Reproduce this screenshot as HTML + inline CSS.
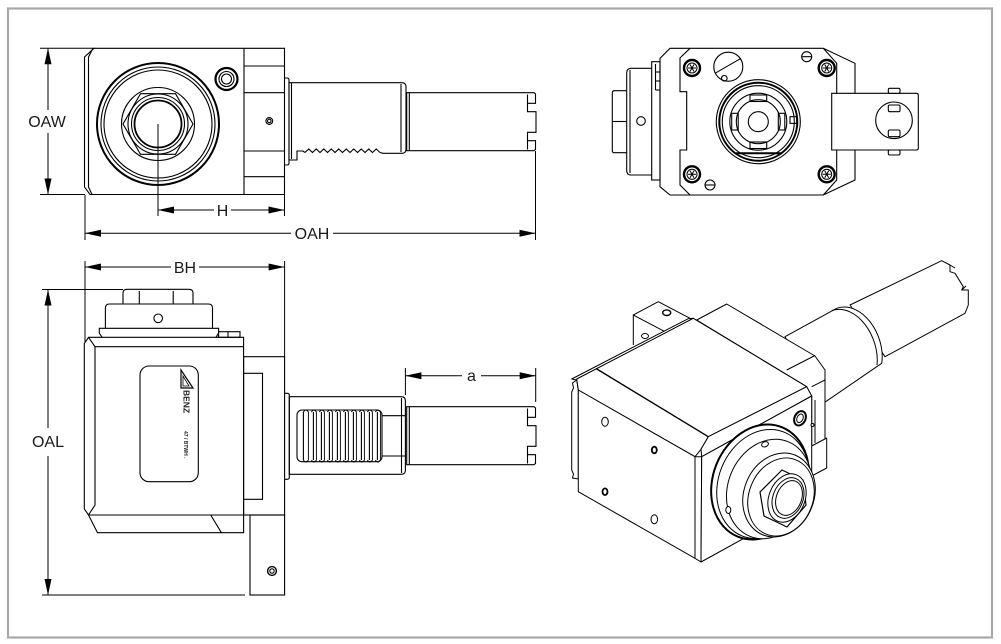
<!DOCTYPE html>
<html><head><meta charset="utf-8"><style>
html,body{margin:0;padding:0;background:#fff;}
svg{display:block;}
text{font-family:"Liberation Sans",sans-serif;font-size:16px;fill:#1a1a1a;}
</style></head><body>
<svg width="1001" height="644" viewBox="0 0 1001 644" xmlns="http://www.w3.org/2000/svg">
<rect x="0" y="0" width="1001" height="644" fill="#fff"/>
<rect x="8" y="8.5" width="984" height="629" fill="none" stroke="#a8a8a8" stroke-width="2.2"/>

<!-- ================= TOP-LEFT VIEW ================= -->
<g fill="none" stroke="#000" stroke-width="1.1">
  <path d="M94,48.3 H284.5 V194.5 H90 L84.5,187 V57 Z"/>
  <path d="M93,48.3 L88.5,57 V187 L92,194.5"/>
  <line x1="244" y1="48.3" x2="244" y2="194.5"/>
  <line x1="244" y1="66" x2="284.5" y2="66"/>
  <line x1="244" y1="92.7" x2="284.5" y2="92.7"/>
  <line x1="244" y1="151" x2="284.5" y2="151"/>
  <line x1="244" y1="176.7" x2="284.5" y2="176.7"/>
  <circle cx="269.3" cy="121" r="3.4"/>
  <circle cx="269.3" cy="121" r="1.8"/>
  <circle cx="226.5" cy="79" r="11" stroke-width="2.2"/>
  <circle cx="226.5" cy="79" r="7.5"/>
  <circle cx="226.5" cy="79" r="5"/>
  <!-- big circles -->
  <circle cx="158" cy="124" r="61" stroke-width="2"/>
  <circle cx="158" cy="124" r="57"/>
  <circle cx="158" cy="124" r="54"/>
  <circle cx="158" cy="124" r="36.5"/>
  <polygon points="193,124 175.5,93.7 140.5,93.7 123,124 140.5,154.3 175.5,154.3"/>
  <circle cx="158" cy="124" r="30"/>
  <circle cx="158" cy="124" r="26.5"/>
  <circle cx="158" cy="124" r="23.5" stroke-width="1.8"/>
  <line x1="158" y1="124" x2="158" y2="216" stroke-width="1"/>
  <!-- collar -->
  <path d="M284.5,78 H287 Q289,78 289,80 V163 Q289,165 287,165 H284.5"/>
  <!-- main shaft -->
  <path d="M289,160 V82.7 H402 Q406,82.7 406,87 V149 Q406,153.3 402,153.3 H383 L380,152.5"/>
  <polyline points="380,152.5 376.25,149 372.5,152.5 368.75,149 365,152.5 361.25,149 357.5,152.5 353.75,149 350,152.5 346.25,149 342.5,152.5 338.75,149 335,152.5 331.25,149 327.5,152.5 323.75,149 320,152.5 316.25,149 312.5,152.5 308.75,149 305,152.5"/>
  <path d="M305,152.5 L303,151 H297 V160 H289"/>
  <line x1="291.5" y1="83" x2="291.5" y2="159"/>
  <line x1="401" y1="84" x2="401" y2="152"/>
  <!-- small shaft -->
  <path d="M406.7,92.7 H534 L535.5,94 V103.3 H527.5 V111.7 H536 V132.3 H527.5 V140.7 H535.5 V149.5 L534,150.7 H406.7 Z"/>
  <line x1="409.3" y1="93" x2="409.3" y2="150.5"/>
  <line x1="527.5" y1="94.5" x2="527.5" y2="103.3"/>
  <line x1="527.5" y1="140.7" x2="527.5" y2="149.5"/>
</g>
<!-- top-left dims -->
<g stroke="#000" stroke-width="1" fill="none">
  <line x1="40" y1="48.3" x2="95" y2="48.3"/>
  <line x1="40" y1="194.5" x2="85" y2="194.5"/>
  <line x1="48" y1="48.3" x2="48" y2="110"/>
  <line x1="48" y1="133" x2="48" y2="194.5"/>
  <line x1="158" y1="210" x2="214" y2="210"/>
  <line x1="231" y1="210" x2="284.5" y2="210"/>
  <line x1="284.5" y1="195" x2="284.5" y2="216"/>
  <line x1="85" y1="195" x2="85" y2="240"/>
  <line x1="535.5" y1="151" x2="535.5" y2="240"/>
  <line x1="85" y1="233.3" x2="291" y2="233.3"/>
  <line x1="333" y1="233.3" x2="535.5" y2="233.3"/>
</g>
<g fill="#000">
  <polygon points="48,48.3 44.5,64.3 51.5,64.3"/>
  <polygon points="48,194.5 44.5,178.5 51.5,178.5"/>
  <polygon points="158,210 174,206.5 174,213.5"/>
  <polygon points="284.5,210 268.5,206.5 268.5,213.5"/>
  <polygon points="85,233.3 101,229.8 101,236.8"/>
  <polygon points="535.5,233.3 519.5,229.8 519.5,236.8"/>
</g>
<text x="47" y="127" text-anchor="middle">OAW</text>
<text x="222.5" y="216" text-anchor="middle">H</text>
<text x="312" y="239" text-anchor="middle">OAH</text>

<!-- ================= BOTTOM-LEFT VIEW ================= -->
<g fill="none" stroke="#000" stroke-width="1.1">
  <!-- nut -->
  <path d="M123,304 V293 Q123,289.3 127,289.3 H189 Q193,289.3 193,293 V304"/>
  <line x1="139.3" y1="291" x2="139.3" y2="304"/>
  <line x1="173.2" y1="291" x2="173.2" y2="304"/>
  <!-- collar -->
  <path d="M105.4,328.3 V308 Q105.4,304 109.4,304 H208.5 Q212.5,304 212.5,308 V328.3"/>
  <circle cx="158.2" cy="318.3" r="4.3"/>
  <path d="M102,337.3 L99.3,333 V328.3 H218.6 V333 L216,337.3"/>
  <rect x="218.6" y="331.7" width="21.4" height="5.6"/>
  <line x1="228" y1="331.7" x2="228" y2="337.3"/>
  <!-- body -->
  <path d="M88.5,337.3 H243.6 V515 H88.5 L84.3,509 V343.5 Z"/>
  <path d="M88.5,337.3 L95,346.7 H243.6 M95,346.7 V505 L88.5,515"/>
  <path d="M88.5,515 L97.5,532.7 H243.6 V515 M210.7,515 L221.4,532.7"/>
  <!-- label -->
  <rect x="140" y="366" width="58.3" height="115.7" rx="9"/>
  <polygon points="181,370 181,388 193,388" stroke-width="1.2"/>
  <polygon points="183,376 183,386 189,386" stroke-width="0.8"/>
  <!-- flange -->
  <rect x="243.6" y="356.7" width="41" height="158.3"/>
  <path d="M243.6,373.3 H262.5 V499.3 H243.6"/>
  <rect x="250" y="515" width="34.6" height="80"/>
  <circle cx="272" cy="571" r="4.4" stroke-width="1.4"/>
  <circle cx="272" cy="571" r="2.2"/>
  <!-- shaft -->
  <path d="M284.6,393.3 H287.3 Q289.3,393.3 289.3,395.3 V477.3 Q289.3,479.3 287.3,479.3 H284.6"/>
  <path d="M289.3,396.7 H401.4 Q405.4,396.7 405.4,400.7 V470.3 Q405.4,474.3 401.4,474.3 H289.3 Z"/>
  <line x1="401.5" y1="398" x2="401.5" y2="473"/>
  <rect x="297" y="410" width="85" height="51.7" rx="5"/>
  <path d="M303.4,412 V460 M313.4,412 V460 M321.4,412 V460 M329.4,412 V460 M337.4,412 V460 M345.4,412 V460 M353.4,412 V460 M361.4,412 V460 M369.4,412 V460 M377.4,412 V460"/>
  <path d="M303.4,412 Q305.9,408 308.4,412 V460 Q305.9,464 303.4,460 M311.4,412 Q313.9,408 316.4,412 V460 Q313.9,464 311.4,460 M319.4,412 Q321.9,408 324.4,412 V460 Q321.9,464 319.4,460 M327.4,412 Q329.9,408 332.4,412 V460 Q329.9,464 327.4,460 M335.4,412 Q337.9,408 340.4,412 V460 Q337.9,464 335.4,460 M343.4,412 Q345.9,408 348.4,412 V460 Q345.9,464 343.4,460 M351.4,412 Q353.9,408 356.4,412 V460 Q353.9,464 351.4,460 M359.4,412 Q361.9,408 364.4,412 V460 Q361.9,464 359.4,460 M367.4,412 Q369.9,408 372.4,412 V460 Q369.9,464 367.4,460 M375.4,412 Q377.9,408 380.4,412 V460 Q377.9,464 375.4,460" stroke-width="0.9"/>
  <line x1="382" y1="415.7" x2="405.4" y2="415.7"/>
  <line x1="382" y1="456" x2="405.4" y2="456"/>
  <path d="M406.7,406.7 H534 L535.5,408 V417.3 H527.5 V425.7 H536 V446.3 H527.5 V454.7 H535.5 V463.5 L534,464.7 H406.7 Z"/>
  <line x1="409.3" y1="407" x2="409.3" y2="464.5"/>
  <line x1="527.5" y1="408.5" x2="527.5" y2="417.3"/>
  <line x1="527.5" y1="454.7" x2="527.5" y2="463.5"/>
</g>
<text transform="translate(183.5,390) rotate(90)" style="font-size:8.5px;font-weight:bold;">BENZ</text>
<text transform="translate(184,431) rotate(90)" style="font-size:5px;font-weight:bold;">47 / BTWH .</text>
<!-- bottom-left dims -->
<g stroke="#000" stroke-width="1" fill="none">
  <line x1="85" y1="261" x2="85" y2="342"/>
  <line x1="284.6" y1="261" x2="284.6" y2="357"/>
  <line x1="85" y1="267" x2="171" y2="267"/>
  <line x1="199" y1="267" x2="284.6" y2="267"/>
  <line x1="42" y1="289.5" x2="123" y2="289.5"/>
  <line x1="42" y1="595" x2="245" y2="595"/>
  <line x1="48" y1="289.5" x2="48" y2="428"/>
  <line x1="48" y1="456" x2="48" y2="595"/>
  <line x1="405.4" y1="368" x2="405.4" y2="395"/>
  <line x1="535.7" y1="368" x2="535.7" y2="402"/>
  <line x1="405.4" y1="375.7" x2="462" y2="375.7"/>
  <line x1="481" y1="375.7" x2="535.7" y2="375.7"/>
</g>
<g fill="#000">
  <polygon points="85,267 101,263.5 101,270.5"/>
  <polygon points="284.6,267 268.6,263.5 268.6,270.5"/>
  <polygon points="48,289.5 44.5,305.5 51.5,305.5"/>
  <polygon points="48,595 44.5,579 51.5,579"/>
  <polygon points="405.4,375.7 421.4,372.2 421.4,379.2"/>
  <polygon points="535.7,375.7 519.7,372.2 519.7,379.2"/>
</g>
<text x="185" y="273" text-anchor="middle">BH</text>
<text x="48" y="447" text-anchor="middle">OAL</text>
<text x="471.5" y="381" text-anchor="middle">a</text>

<!-- ================= TOP-RIGHT VIEW ================= -->
<g fill="none" stroke="#000" stroke-width="1.1">
  <path d="M626.7,90.7 H614.3 Q612.3,90.7 612.3,93 V150.5 Q612.3,152.7 614.3,152.7 H626.7"/>
  <line x1="612.3" y1="121.5" x2="626.7" y2="121.5"/>
  <path d="M651.7,68.3 H631 Q626.7,68.3 626.7,73 V170.5 Q626.7,175 631,175 H651.7"/>
  <line x1="630" y1="70" x2="630" y2="173"/>
  <circle cx="641" cy="121" r="4.3"/>
  <rect x="651.7" y="61.7" width="8.3" height="118.3"/>
  <line x1="655.5" y1="64" x2="655.5" y2="90"/>
  <line x1="655.5" y1="72" x2="660" y2="72"/>
  <line x1="655.5" y1="81" x2="660" y2="81"/>
  <line x1="655.5" y1="90" x2="660" y2="90"/>
  <!-- body -->
  <path d="M670,48.3 H823.3 L855,63.3 V180 L823.3,195 H670 L660,186.7 V58.3 Z"/>
  <path d="M690,48.3 L680,58 V91.7 H686.7 V150 H680 V185 L690,195"/>
  <path d="M823.3,48.3 L836.7,63.3 V180 L823.3,195"/>
  <!-- center -->
  <circle cx="758.3" cy="121.7" r="42"/>
  <circle cx="758.3" cy="121.7" r="39" stroke-width="2"/>
  <circle cx="758.3" cy="121.7" r="36"/>
  <circle cx="758.3" cy="121.7" r="28.5"/>
  <circle cx="758.3" cy="121.7" r="22"/>
  <circle cx="758.3" cy="121.7" r="10"/>
  <rect x="750" y="95" width="16.7" height="6.5"/>
  <rect x="750" y="142" width="16.7" height="6.5"/>
  <rect x="731.7" y="113.3" width="6.5" height="16.7"/>
  <rect x="778.3" y="113.3" width="6.5" height="16.7"/>
  <rect x="790" y="116.7" width="6.7" height="6.7"/>
  <line x1="736" y1="153.3" x2="781" y2="153.3" stroke-width="2"/>
  <!-- misc circles -->
  <circle cx="728.3" cy="66.7" r="14.5"/>
  <line x1="715" y1="73.3" x2="741" y2="58.3"/>
  <circle cx="724.3" cy="78.3" r="2.8"/>
  <circle cx="806.7" cy="56.7" r="5"/>
  <line x1="801.7" y1="56.7" x2="811.7" y2="56.7"/>
  <circle cx="710" cy="185" r="5"/>
  <line x1="705" y1="185" x2="715" y2="185"/>
</g>
<g fill="none" stroke="#000" stroke-width="1">
  <g transform="translate(692,68)"><circle r="8" stroke-width="2.4"/><circle r="5"/><path d="M-4,0 H4 M-2,-3.5 L2,3.5 M-2,3.5 L2,-3.5"/></g>
  <g transform="translate(826.7,68)"><circle r="8" stroke-width="2.4"/><circle r="5"/><path d="M-4,0 H4 M-2,-3.5 L2,3.5 M-2,3.5 L2,-3.5"/></g>
  <g transform="translate(692,174.3)"><circle r="8" stroke-width="2.4"/><circle r="5"/><path d="M-4,0 H4 M-2,-3.5 L2,3.5 M-2,3.5 L2,-3.5"/></g>
  <g transform="translate(826.7,174.3)"><circle r="8" stroke-width="2.4"/><circle r="5"/><path d="M-4,0 H4 M-2,-3.5 L2,3.5 M-2,3.5 L2,-3.5"/></g>
</g>
<g fill="#fff" stroke="#000" stroke-width="1.1">
  <path d="M831.7,93.3 H916.3 Q918.3,93.3 918.3,95.3 V148 Q918.3,150 916.3,150 H831.7 Z"/>
  <rect x="888.3" y="88.3" width="11.7" height="5" rx="1.5"/>
  <rect x="888.3" y="150" width="11.7" height="5" rx="1.5"/>
  <circle cx="894" cy="120.3" r="18.3"/>
  <rect x="888.3" y="105" width="11.7" height="6.7" rx="1.5"/>
  <rect x="888.3" y="130" width="11.7" height="6.7" rx="1.5"/>
</g>

<!-- ================= ISOMETRIC VIEW ================= -->
<g fill="#fff" stroke="#000" stroke-width="1" stroke-linejoin="round">
  <!-- small shaft -->
  <path d="M850,305 L941.7,260.7 L950,265 L950,271.7 L955,273.3 L963.3,286.7 L961.7,290 L968.3,290 L968.3,305 L965,313.3 L885,356.7 Z"/>
  <line x1="950" y1="265" x2="955" y2="268"/>
  <line x1="961.7" y1="290" x2="966" y2="286"/>
  <!-- big cylinder -->
  <path d="M785,336.7 L836.7,308.3 C862,300 886,335 881.7,363.3 L823.3,403.3 Z"/>
  <path d="M832,310.5 C857,303 880,337 877,365" fill="none"/>
  <!-- rear housing -->
  <path d="M696.7,320 L726.7,304 L815,356 L825,370 V440 L811.7,447 V396 L806.7,386.7 Z"/>
  <line x1="786.7" y1="370" x2="815" y2="355.5" fill="none"/>
  <line x1="811.7" y1="386.7" x2="825" y2="380" fill="none"/>
  <path d="M811.7,446 L826.7,438 V468 L811.7,476" />
  <line x1="815" y1="400" x2="815" y2="443" fill="none"/>
  <!-- back bracket -->
  <path d="M633.3,315 L658.3,301.7 L690,318.3 L665,331.7 Z"/>
  <path d="M633.3,315 V345 M665,331.7 V338" fill="none"/>
  <ellipse cx="666.7" cy="312.7" rx="4" ry="2.8" stroke-width="1.4"/>
  <ellipse cx="645" cy="336" rx="3.5" ry="2.5"/>
  <!-- left plate strip -->
  <path d="M576.7,380 L572.5,383 L573.5,388 L571.7,392 V470 L573.5,474 L572.5,478 L578.3,479 V390 Z"/>
  <!-- top face & bevels -->
  <path d="M571.7,379 L688,318.8 L693.3,318.3 L576.7,380 Z"/>
  <path d="M576.7,379 L693.3,318.3 L806.7,386.7 L708.3,436.7 L701,449.3 L695,456.7 L578.3,390 Z"/>
  <line x1="596" y1="368.5" x2="708.3" y2="436.7" stroke-width="1.4"/>
  <path d="M708.3,436.7 L806.7,386.7 L811.7,396 L701.7,456.7 L701,449.3 Z"/>
  <!-- left face -->
  <path d="M578.3,390 L695,456.7 V558.3 L578.3,491.7 Z"/>
  <path d="M695,456.7 L701.7,456.7 L701,562 L695,558.3 Z"/>
  <!-- right face -->
  <path d="M701.7,456.7 L811.7,396 V501 L701,562 Z"/>
  <!-- holes -->
  <ellipse cx="605" cy="421.7" rx="3.3" ry="4.5"/>
  <ellipse cx="654.3" cy="450" rx="2.5" ry="3.3" stroke-width="1.8"/>
  <ellipse cx="605" cy="491.7" rx="2.5" ry="3.3" stroke-width="1.8"/>
  <ellipse cx="654.3" cy="519.3" rx="3.3" ry="4.5"/>
  <!-- set screw -->
  <ellipse cx="800" cy="418.3" rx="5.5" ry="7.5" transform="rotate(25 800 418.3)" stroke-width="2"/>
  <ellipse cx="800" cy="418.3" rx="3" ry="4.5" transform="rotate(25 800 418.3)"/>
  <circle cx="812.5" cy="425" r="1.5"/>
  <!-- ring -->
  <ellipse cx="760" cy="482" rx="47" ry="59" transform="rotate(22 760 482)" stroke-width="2"/>
  <ellipse cx="763" cy="484" rx="44.5" ry="56" transform="rotate(22 763 484)"/>
  <ellipse cx="769" cy="489" rx="41" ry="51" transform="rotate(22 769 489)"/>
  <ellipse cx="765" cy="444.3" rx="3.5" ry="2.5" transform="rotate(-20 765 444.3)"/>
  <ellipse cx="728.3" cy="510" rx="2.5" ry="3.5"/>
  <ellipse cx="779" cy="495" rx="35" ry="43" transform="rotate(22 779 495)"/>
  <ellipse cx="781" cy="497" rx="32" ry="40" transform="rotate(22 781 497)"/>
  <polygon points="782,470 803,480 806,505 787,527 764,516 760,492" stroke-width="1.2"/>
  <ellipse cx="787" cy="498" rx="18" ry="25" transform="rotate(22 787 498)"/>
  <ellipse cx="788" cy="498" rx="15" ry="21" transform="rotate(22 788 498)"/>
  <ellipse cx="789" cy="498" rx="12.5" ry="18" transform="rotate(22 789 498)"/>
</g>
</svg>
</body></html>
